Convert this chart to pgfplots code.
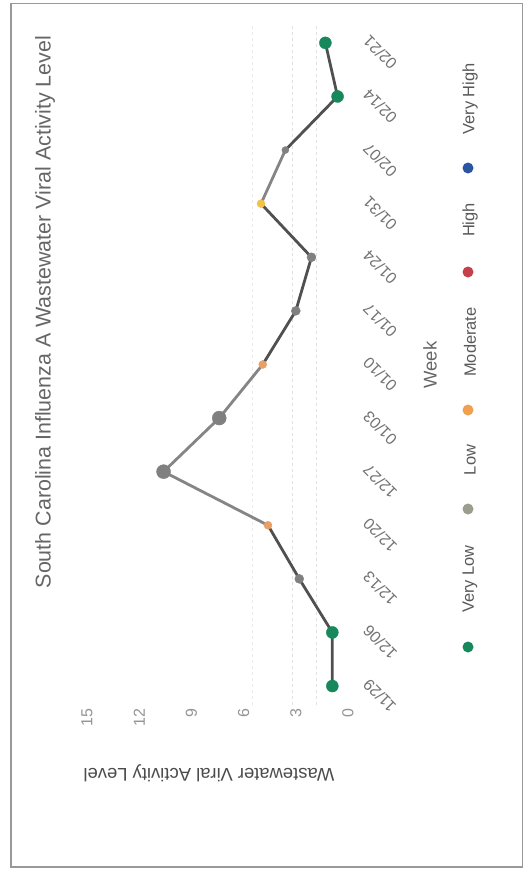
\documentclass[border=0pt]{standalone}
\usepackage{fontspec}
\setmainfont{Liberation Sans}
\usepackage{pgfplots}
\pgfplotsset{compat=1.18}
\definecolor{vlow}{HTML}{17875C}
\definecolor{lowc}{HTML}{9A9E8C}
\definecolor{modc}{HTML}{F0A050}
\definecolor{highc}{HTML}{C4404C}
\definecolor{vhighc}{HTML}{2B55A3}
\definecolor{dline}{HTML}{505050}
\definecolor{lline}{HTML}{858585}
\definecolor{gmark}{HTML}{808080}
\definecolor{ymark}{HTML}{F2C34A}
\definecolor{omark}{HTML}{E8A064}
\begin{document}
\begin{tikzpicture}[x=1bp,y=1bp]
\path[use as bounding box] (0,0) rectangle (530,-873);
\fill[white] (0,0) rectangle (530,-873);
\draw[color=gray!80, line width=1.5bp] (11,-3.5) rectangle (522.5,-867);
\begin{axis}[
  at={(78.3bp,-704.8bp)}, anchor=south west,
  width=278.4bp, height=680.7bp, scale only axis,
  x dir=reverse, xmin=-0.5, xmax=15.5, ymin=-0.35, ymax=12.35,
  axis line style={draw=none}, major tick length=0pt,
  xtick={0,3,6,9,12,15},
  /pgf/number format/assume math mode=true,
  xticklabel style={rotate=90, font=\fontsize{16}{18}\selectfont, text=black!42},
  ytick={0,...,12},
  yticklabels={11/29,12/06,12/13,12/20,12/27,01/03,01/10,01/17,01/24,01/31,02/07,02/14,02/21},
  yticklabel pos=right,
  yticklabel style={rotate=135, anchor=north east, font=\fontsize{16}{18}\selectfont, text=black!55},
  clip=false,
]
\addplot[draw=black!12, dashed, line width=1bp] coordinates {(1.8,-0.35) (1.8,12.35)};
\addplot[draw=black!12, dashed, line width=1bp] coordinates {(3.2,-0.35) (3.2,12.35)};
\addplot[draw=black!8, dashed, line width=1bp] coordinates {(5.5,-0.35) (5.5,12.35)};
% line segments
\addplot[dline, line width=2.8bp] coordinates {(0.9,0) (0.9,1) (2.8,2) (4.6,3)};
\addplot[lline, line width=2.8bp] coordinates {(4.6,3) (10.6,4) (7.4,5) (4.9,6)};
\addplot[dline, line width=2.8bp] coordinates {(4.9,6) (3.0,7) (2.1,8) (5.0,9)};
\addplot[lline, line width=2.8bp] coordinates {(5.0,9) (3.6,10)};
\addplot[dline, line width=2.8bp] coordinates {(3.6,10) (0.6,11) (1.3,12)};
% markers
\addplot[only marks, mark=*, mark size=6bp, color=vlow] coordinates {(0.9,0) (0.9,1) (0.6,11) (1.3,12)};
\addplot[only marks, mark=*, mark size=7bp, color=gmark] coordinates {(10.6,4) (7.4,5)};
\addplot[only marks, mark=*, mark size=4.5bp, color=gmark] coordinates {(2.8,2) (3.0,7) (2.1,8)};
\addplot[only marks, mark=*, mark size=3.5bp, color=gmark] coordinates {(3.6,10)};
\addplot[only marks, mark=*, mark size=4bp, color=omark] coordinates {(4.6,3) (4.9,6)};
\addplot[only marks, mark=*, mark size=4bp, color=ymark] coordinates {(5.0,9)};
\end{axis}
% title and labels
\node[rotate=90, text=black!60, font=\fontsize{21.5}{24}\selectfont] at (45,-312) {South Carolina Influenza A Wastewater Viral Activity Level};
\node[rotate=180, text=black!70, font=\fontsize{18.5}{21}\selectfont] at (209,-773) {Wastewater Viral Activity Level};
\node[rotate=90, text=black!60, font=\fontsize{18.5}{21}\selectfont] at (430,-365) {Week};
% legend
\fill[vlow] (468,-647) circle (5.5);
\node[rotate=90, text=black!65, font=\fontsize{16.5}{19}\selectfont] at (470,-579) {Very Low};
\fill[lowc] (468,-509) circle (5.5);
\node[rotate=90, text=black!65, font=\fontsize{16.5}{19}\selectfont] at (470,-460) {Low};
\fill[modc] (468,-410) circle (5.5);
\node[rotate=90, text=black!65, font=\fontsize{16.5}{19}\selectfont] at (470,-342) {Moderate};
\fill[highc] (468,-272) circle (5.5);
\node[rotate=90, text=black!65, font=\fontsize{16.5}{19}\selectfont] at (470,-220) {High};
\fill[vhighc] (468,-168) circle (5.5);
\node[rotate=90, text=black!65, font=\fontsize{16.5}{19}\selectfont] at (470,-99) {Very High};
\end{tikzpicture}
\end{document}
